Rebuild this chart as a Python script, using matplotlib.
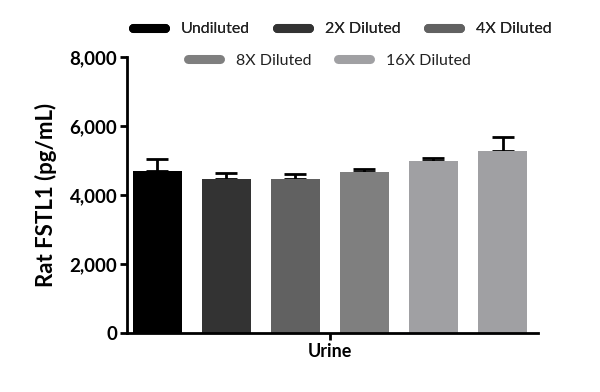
import matplotlib
matplotlib.use('Agg')
import matplotlib.pyplot as plt
from matplotlib.lines import Line2D

plt.rcParams['font.family'] = ['Lato', 'DejaVu Sans']

samples = ['Undiluted', '2X Diluted', '4X Diluted', '8X Diluted', '16X Diluted', '16X Diluted']
means = [4700, 4470, 4465, 4665, 4985, 5285]
errs = [345, 160, 145, 90, 80, 390]
colors = ['#000000', '#333333', '#616161', '#7f7f7f', '#a0a0a3', '#a0a0a3']
legend_names = ['Undiluted', '2X Diluted', '4X Diluted', '8X Diluted', '16X Diluted']
group = 'Urine'
yticks = [0, 2000, 4000, 6000, 8000]

fig = plt.figure(figsize=(6, 3.92), dpi=100)
ax = fig.add_axes([0.2117, 0.1505, 0.6845, 0.7041])

x = list(range(len(means)))
ax.bar(x, means, width=0.714, color=colors, zorder=2)
ax.errorbar(x, means, yerr=[[0] * len(errs), errs], fmt='none', ecolor='black',
            elinewidth=2, capsize=8, capthick=2, zorder=1)

ax.set_xlim(-0.44, 5.51)
ax.set_ylim(0, 8000)
ax.set_yticks(yticks)
ax.set_yticklabels([f'{v:,}' for v in yticks], fontsize=13.5, fontweight='bold')
ax.set_xticks([2.5])
ax.set_xticklabels([group], fontsize=13, fontweight='bold')
ax.set_ylabel('Rat FSTL1 (pg/mL)', fontsize=16, fontweight='bold', labelpad=9)
for s in ['top', 'right']:
    ax.spines[s].set_visible(False)
for s in ['left', 'bottom']:
    ax.spines[s].set_linewidth(2)
ax.tick_params(width=2, length=5, pad=2)

def handle(c):
    return Line2D([0], [0], color=c, lw=6.5, solid_capstyle='round')

kw = dict(loc='center', frameon=False, fontsize=11.5, handlelength=2.0,
          columnspacing=1.7, handletextpad=1.0, labelcolor='#222222')
leg1 = fig.legend([handle(c) for c in colors[:3]], legend_names[:3], ncol=3,
                  bbox_to_anchor=(0.57, 0.925), **kw)
leg2 = fig.legend([handle(c) for c in colors[3:5]], legend_names[3:], ncol=2,
                  bbox_to_anchor=(0.549, 0.845), **kw)
fig.add_artist(leg1)

fig.savefig('out.png', dpi=100)
